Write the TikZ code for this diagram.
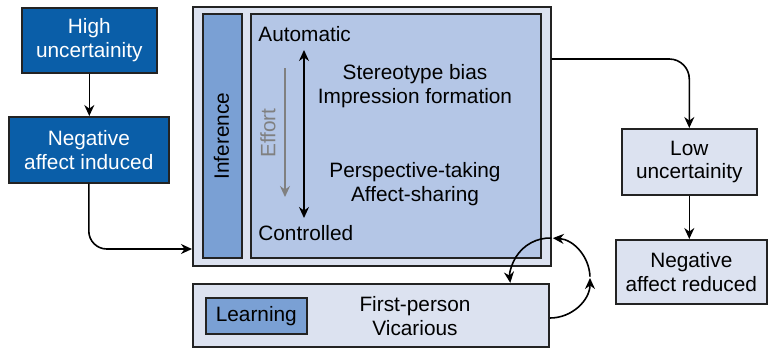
\documentclass[tikz,border=0pt]{standalone}
\usepackage{fontspec}
\setmainfont{Liberation Sans}
\usetikzlibrary{arrows.meta}
\definecolor{darkblue}{RGB}{10,94,168}
\definecolor{midblue}{RGB}{122,160,212}
\definecolor{lightblue}{RGB}{180,198,230}
\definecolor{paleblue}{RGB}{220,226,240}
\definecolor{edge}{RGB}{35,35,35}
\definecolor{effortgray}{RGB}{128,128,128}
\begin{document}
\begin{tikzpicture}[x=0.5pt,y=0.5pt,
  font=\fontsize{10.4}{11.8}\selectfont,
  box/.style={draw=edge,line width=0.8pt,rectangle,anchor=north west,inner sep=0pt,align=center},
  darkbox/.style={box,fill=darkblue,text=white},
  palebox/.style={box,fill=paleblue},
  tip/.style={Stealth[length=5.5pt,width=5pt]},
  arr/.style={-{Stealth[length=5.5pt,width=5pt]},line width=0.8pt,draw=black},
  lbl/.style={inner sep=0pt,align=center}]
\useasboundingbox[fill=white] (0,0) rectangle (768,-350);
% left column
\node[darkbox,minimum width=67.5pt,minimum height=32.5pt] (hu) at (21,-7) {High\\uncertainity};
\node[darkbox,minimum width=80pt,minimum height=33pt] (nai) at (8,-116) {Negative\\affect induced};
% inference block
\node[palebox,minimum width=179pt,minimum height=129.5pt] (outer) at (192,-6) {};
\node[box,fill=midblue,minimum width=19.5pt,minimum height=122pt] (infbar) at (202,-13) {};
\node[lbl,rotate=90] (inftext) at (221.5,-136) {Inference};
\node[box,fill=lightblue,minimum width=145pt,minimum height=122pt] (inner) at (250,-13) {};
\node[lbl,anchor=west] (auto) at (258,-34) {Automatic};
\node[lbl,anchor=west] (ctrl) at (258,-233) {Controlled};
\node[lbl] (stereo) at (415,-86) {Stereotype bias\\Impression formation};
\node[lbl] (persp) at (415,-184) {Perspective-taking\\Affect-sharing};
\node[lbl,rotate=90,text=effortgray] (effort) at (268,-133) {Effort};
\coordinate (ba) at (304,-50);
\coordinate (bb) at (304,-218);
\draw[{Stealth[length=5.5pt,width=5pt]}-{Stealth[length=5.5pt,width=5pt]},line width=0.8pt] (ba) -- (bb);
\coordinate (ga) at (285,-68);
\coordinate (gb) at (285,-197);
\draw[-{Stealth[length=5.5pt,width=5pt]},line width=0.8pt,effortgray] (ga) -- (gb);
% right column
\node[palebox,minimum width=67.5pt,minimum height=33pt] (lu) at (621,-128) {Low\\uncertainity};
\node[palebox,minimum width=75.5pt,minimum height=32pt] (nar) at (615,-239) {Negative\\affect reduced};
% connectors
\draw[arr] (hu.south) -- (hu.south |- nai.north);
\draw[arr,rounded corners=9pt] (nai.south) |- (outer.west |- 0,-249);
\draw[arr,rounded corners=10pt] (outer.east |- 0,-59) -| (lu.north);
\draw[arr] (lu.south) -- (lu.south |- nar.north);
% cycle arcs
\coordinate (C) at (550,-278);
\draw[arr] (C) ++(270:20pt) arc[start angle=270,end angle=360,radius=20pt];
\draw[arr] (C) ++(2:20pt) arc[start angle=2,end angle=86,radius=20pt];
\draw[arr] (C) ++(88:20pt) arc[start angle=88,end angle=187,radius=20pt];
% learning block
\node[palebox,minimum width=178pt,minimum height=31.5pt] (learnbox) at (192,-283) {};
\node[box,fill=midblue,minimum width=50.5pt,minimum height=18pt] (learning) at (205,-297) {Learning};
\node[lbl] (firstp) at (415,-316) {First-person\\Vicarious};
\end{tikzpicture}
\end{document}
